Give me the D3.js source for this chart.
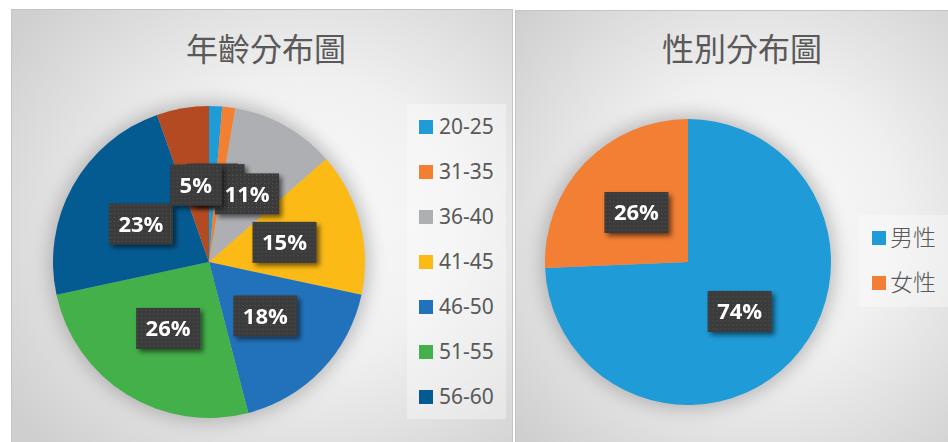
<!DOCTYPE html>
<html>
<head>
<meta charset="utf-8">
<script src="https://cdn.jsdelivr.net/npm/d3@7/dist/d3.min.js"></script>
<style>
  html, body { margin: 0; padding: 0; background: #ffffff; }
  svg { display: block; }
</style>
</head>
<body>
<svg id="chart" width="948" height="442"></svg>
<script>
// Age groups (respondent counts) — drawn clockwise from 12 o'clock
const ageGroups = ["20-25", "31-35", "36-40", "41-45", "46-50", "51-55", "56-60", "61-65"];
const ageCounts = [1, 1, 8, 11, 13, 19, 17, 4];
const ageColors = ["#1F9BD7", "#F37F31", "#ADAFB2", "#FBBA15", "#2272BB", "#44B04A", "#045B92", "#B34A22"];
const ageLegendRows = 7; // the legend box only has room for seven rows

// Gender split (respondent counts)
const genderGroups = ["男性", "女性"];
const genderCounts = [55, 19];
const genderColors = ["#1F9BD7", "#F27F33"];

const titles = ["年齡分布圖", "性別分布圖"];

// Slices below this share keep their label box but no text (it sits under neighbours)
const minLabelShare = 0.02;

const svg = d3.select("#chart");
const defs = svg.append("defs");

// Panel background: soft radial gradient, light centre fading to grey edges
function addGradient(id, cx, cy) {
  const g = defs.append("radialGradient").attr("id", id)
    .attr("cx", cx).attr("cy", cy).attr("r", "72%");
  g.append("stop").attr("offset", "0%").attr("stop-color", "#fbfbfb");
  g.append("stop").attr("offset", "45%").attr("stop-color", "#f0f0f0");
  g.append("stop").attr("offset", "100%").attr("stop-color", "#cfcfcf");
}
addGradient("bgLeft", "58%", "48%");
addGradient("bgRight", "55%", "48%");

// Blurred halo behind each pie
const halo = defs.append("filter").attr("id", "halo")
  .attr("x", "-30%").attr("y", "-30%").attr("width", "160%").attr("height", "160%");
halo.append("feGaussianBlur").attr("stdDeviation", 9);

// Drop shadow for the label boxes
const lblShadow = defs.append("filter").attr("id", "lblShadow")
  .attr("x", "-30%").attr("y", "-30%").attr("width", "170%").attr("height", "170%");
lblShadow.append("feGaussianBlur").attr("in", "SourceAlpha").attr("stdDeviation", 2.5).attr("result", "b");
lblShadow.append("feOffset").attr("in", "b").attr("dx", 3).attr("dy", 3).attr("result", "o");
lblShadow.append("feComponentTransfer").attr("in", "o").attr("result", "s")
  .append("feFuncA").attr("type", "linear").attr("slope", 0.55);
const merge = lblShadow.append("feMerge");
merge.append("feMergeNode").attr("in", "s");
merge.append("feMergeNode").attr("in", "SourceGraphic");

// Dotted texture for the label boxes
const pat = defs.append("pattern").attr("id", "dots")
  .attr("width", 4).attr("height", 4).attr("patternUnits", "userSpaceOnUse");
pat.append("rect").attr("width", 4).attr("height", 4).attr("fill", "#3b3b3b");
pat.append("rect").attr("x", 1).attr("y", 1).attr("width", 1).attr("height", 1).attr("fill", "#585858");

// Panels
const panels = [
  { x: 11.5, y: 9.5, w: 501, h: 440, fill: "url(#bgLeft)" },
  { x: 515.5, y: 10.5, w: 440, h: 440, fill: "url(#bgRight)" }
];
panels.forEach(p => {
  svg.append("rect").attr("x", p.x).attr("y", p.y).attr("width", p.w).attr("height", p.h)
    .attr("fill", p.fill).attr("stroke", "#c4c4c4").attr("stroke-width", 1);
});

// Titles
const titleX = [266, 742];
titles.forEach((t, i) => {
  svg.append("text").attr("x", titleX[i]).attr("y", 61)
    .attr("text-anchor", "middle")
    .attr("font-family", "'Noto Sans CJK TC', 'Noto Sans CJK SC', sans-serif")
    .attr("font-size", 32).attr("fill", "#595959")
    .text(t);
});

function drawPie(cx, cy, radius, values, colors) {
  const g = svg.append("g").attr("transform", `translate(${cx},${cy})`);
  const total = d3.sum(values);

  g.append("circle").attr("r", radius + 4).attr("fill", "#8a8a8a")
    .attr("opacity", 0.55).attr("filter", "url(#halo)");

  const pie = d3.pie().sort(null).value(d => d);
  const arcs = pie(values);
  const arc = d3.arc().innerRadius(0).outerRadius(radius);

  g.selectAll("path.slice").data(arcs).enter().append("path")
    .attr("class", "slice")
    .attr("d", arc)
    .attr("fill", (d, i) => colors[i]);

  // Data labels at half radius along each slice's mid-angle
  const lg = g.selectAll("g.lbl").data(arcs).enter().append("g")
    .attr("class", "lbl")
    .attr("transform", d => `translate(${arc.centroid(d)})`)
    .attr("filter", "url(#lblShadow)");

  lg.each(function(d) {
    const sel = d3.select(this);
    const share = d.value / total;
    const label = Math.round(share * 100) + "%";
    const rect = sel.append("rect").attr("fill", "url(#dots)");
    const txt = sel.append("text")
      .attr("text-anchor", "middle").attr("dy", "0.36em")
      .attr("font-family", "'Open Sans', 'Noto Sans', sans-serif")
      .attr("font-weight", 700).attr("font-size", 22).attr("fill", "#ffffff")
      .text(label);
    const w = txt.node().getComputedTextLength() + 19;
    const h = 41;
    rect.attr("x", -w / 2).attr("y", -h / 2).attr("width", w).attr("height", h);
    if (share < minLabelShare) txt.remove();
  });
}

drawPie(209, 262, 156, ageCounts, ageColors);
drawPie(688, 262, 143, genderCounts, genderColors);

// Legends
function drawLegend(box, names, colors, rowY, textX, fontFamily, fontSize, fontWeight) {
  svg.append("rect").attr("x", box.x).attr("y", box.y).attr("width", box.w).attr("height", box.h)
    .attr("fill", "#ffffff").attr("opacity", 0.35);
  const y = d3.scalePoint().domain(names).range(rowY);
  const rows = svg.selectAll(null).data(names).enter().append("g")
    .attr("transform", d => `translate(0,${y(d)})`);
  rows.append("rect").attr("x", box.sx).attr("y", -7).attr("width", 14).attr("height", 14)
    .attr("fill", (d, i) => colors[i]);
  rows.append("text").attr("x", textX).attr("dy", "0.35em")
    .attr("font-family", fontFamily).attr("font-size", fontSize)
    .attr("font-weight", fontWeight)
    .attr("fill", "#595959").text(d => d);
}

drawLegend({ x: 407, y: 104, w: 99, h: 315, sx: 419 },
  ageGroups.slice(0, ageLegendRows), ageColors, [127, 397], 439,
  "'Noto Sans', 'Open Sans', sans-serif", 21, 400);

drawLegend({ x: 859, y: 215, w: 89, h: 92, sx: 872 },
  genderGroups, genderColors, [238, 283], 890,
  "'Noto Sans CJK TC', 'Noto Sans CJK SC', sans-serif", 23, 300);
</script>
</body>
</html>
